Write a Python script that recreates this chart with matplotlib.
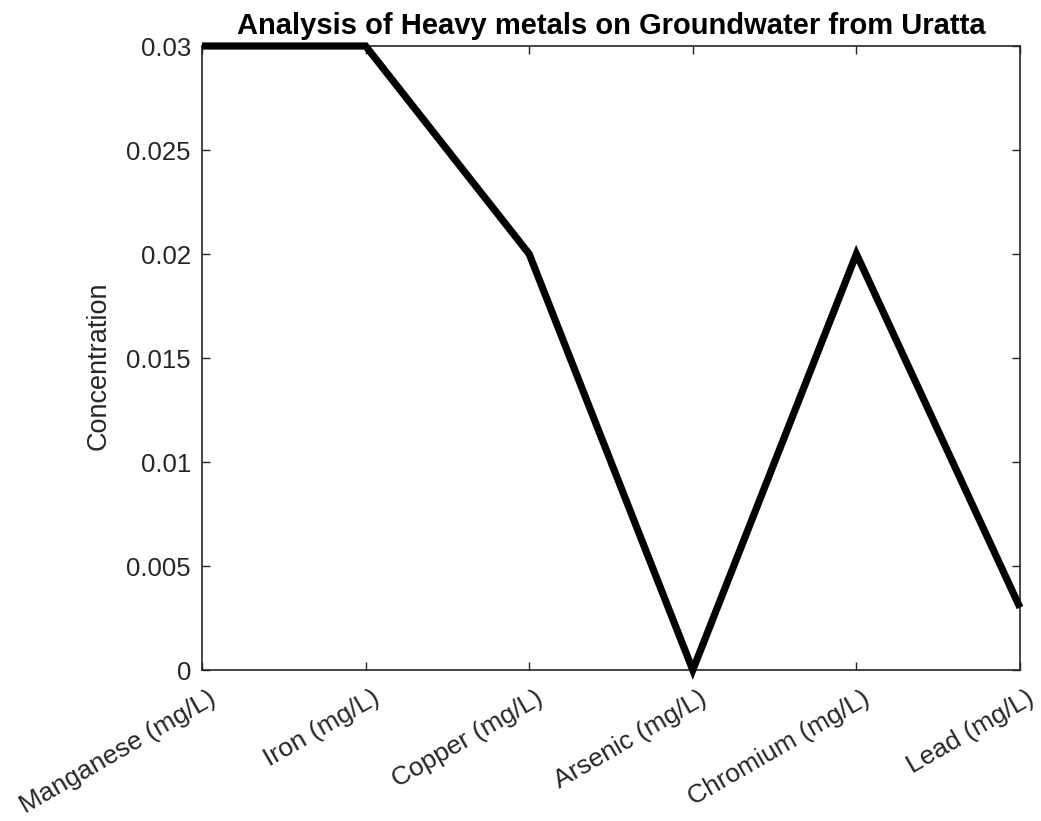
import matplotlib
matplotlib.use("Agg")
import matplotlib.pyplot as plt
from matplotlib.transforms import ScaledTranslation

categories = ["Manganese (mg/L)", "Iron (mg/L)", "Copper (mg/L)",
              "Arsenic (mg/L)", "Chromium (mg/L)", "Lead (mg/L)"]
concentration = [0.03, 0.03, 0.02, 0.0, 0.02, 0.003]
y_ticks = [0, 0.005, 0.01, 0.015, 0.02, 0.025, 0.03]
y_tick_labels = ["0", "0.005", "0.01", "0.015", "0.02", "0.025", "0.03"]

plt.rcParams["font.family"] = ["Liberation Sans", "DejaVu Sans"]

fig = plt.figure(figsize=(10.41, 8.21), dpi=100)
ax = fig.add_axes([202 / 1041, 1 - 670 / 821, (1020 - 202) / 1041, (670 - 46) / 821])

x = list(range(len(categories)))
ax.plot(x, concentration, color="black", linewidth=5.2, solid_joinstyle="miter",
        solid_capstyle="butt", clip_on=False, zorder=3)

ax.set_xlim(0, len(categories) - 1)
ax.set_ylim(0, 0.03)
ax.set_xticks(x)
ax.set_xticklabels(categories, rotation=30, ha="right", va="center",
                   rotation_mode="anchor", fontsize=19)
ax.set_yticks(y_ticks)
ax.set_yticklabels(y_tick_labels, fontsize=18.5)

edge = "#262626"
for s in ax.spines.values():
    s.set_color(edge)
    s.set_linewidth(1.2)
ax.tick_params(direction="in", length=6, width=1.0, color=edge, labelcolor=edge,
               top=True, right=True)
ax.tick_params(axis="y", pad=8)
ax.tick_params(axis="x", pad=19)

# nudge rotated category labels to the right of their ticks
shift = ScaledTranslation(12 / 100, 0, fig.dpi_scale_trans)
for lbl in ax.get_xticklabels():
    lbl.set_transform(lbl.get_transform() + shift)

ax.set_ylabel("Concentration", fontsize=19.5, color=edge)
ax.yaxis.set_label_coords(-0.110, 0.487)
ax.set_title("Analysis of Heavy metals on Groundwater from Uratta",
             fontsize=21, fontweight="bold", pad=8.5)

fig.savefig("out.png", dpi=100)
